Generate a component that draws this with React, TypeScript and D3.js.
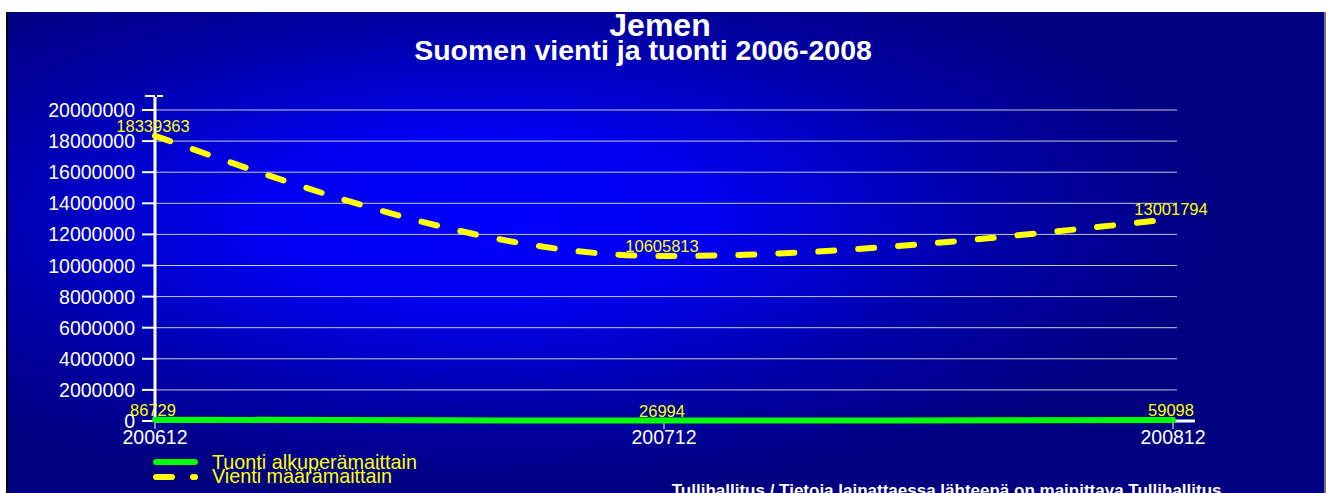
import React, { useEffect, useRef } from 'react';
import * as d3 from 'd3';

const months = ['200612', '200712', '200812'];
const tuonti = [86729, 26994, 59098];
const vienti = [18339363, 10605813, 13001794];
const yTicks = [0, 2000000, 4000000, 6000000, 8000000, 10000000, 12000000, 14000000, 16000000, 18000000, 20000000];
const legendLabels = ['Tuonti alkuperämaittain', 'Vienti määrämaittain'];

const W = 1328,
  H = 493;

export default function App() {
  const ref = useRef<SVGSVGElement>(null);

  useEffect(() => {
    const svg = d3.select(ref.current);
    svg.selectAll('*').remove();

    const x = d3.scalePoint<string>().domain(months).range([155, 1173]);
    const y = d3.scaleLinear().domain([0, 20000000]).range([421, 110]);

    const defs = svg.append('defs');
    const grad = defs
      .append('radialGradient')
      .attr('id', 'bg')
      .attr('cx', 0.36)
      .attr('cy', 0.42)
      .attr('r', 0.56);
    grad.append('stop').attr('offset', 0).attr('stop-color', '#0000ff');
    grad.append('stop').attr('offset', 0.3).attr('stop-color', '#0000f2');
    grad.append('stop').attr('offset', 0.7).attr('stop-color', '#0000a6');
    grad.append('stop').attr('offset', 1).attr('stop-color', '#000080');

    // background
    svg.append('rect').attr('x', 6).attr('y', 12).attr('width', 1319).attr('height', 490).attr('fill', 'url(#bg)');
    svg.append('line').attr('x1', 7).attr('x2', 7).attr('y1', 12).attr('y2', H).attr('stroke', '#000').attr('stroke-width', 2);
    svg.append('line').attr('x1', 1325).attr('x2', 1325).attr('y1', 12).attr('y2', H).attr('stroke', '#777').attr('stroke-width', 2);

    // titles
    svg
      .append('text')
      .attr('x', 660)
      .attr('y', 36)
      .attr('text-anchor', 'middle')
      .attr('font-family', 'Liberation Sans, Arial, sans-serif')
      .attr('font-weight', 'bold')
      .attr('font-size', 32)
      .attr('fill', '#fff')
      .text('Jemen');
    svg
      .append('text')
      .attr('x', 643)
      .attr('y', 60)
      .attr('text-anchor', 'middle')
      .attr('font-family', 'Liberation Sans, Arial, sans-serif')
      .attr('font-weight', 'bold')
      .attr('font-size', 28.5)
      .attr('fill', '#fff')
      .text('Suomen vienti ja tuonti 2006-2008');

    // grid
    svg
      .append('g')
      .selectAll('line')
      .data(yTicks.filter(d => d > 0))
      .enter()
      .append('line')
      .attr('x1', x(months[0]))
      .attr('x2', 1177)
      .attr('y1', d => y(d))
      .attr('y2', d => y(d))
      .attr('stroke', '#c8c8d8')
      .attr('stroke-width', 1);

    // y axis
    const yAxis = svg.append('g').attr('font-family', 'Liberation Sans, Arial, sans-serif');
    yAxis
      .selectAll('line.tick')
      .data(yTicks)
      .enter()
      .append('line')
      .attr('class', 'tick')
      .attr('x1', 142)
      .attr('x2', 155)
      .attr('y1', d => y(d))
      .attr('y2', d => y(d))
      .attr('stroke', '#fff')
      .attr('stroke-width', 2);
    yAxis
      .selectAll('text')
      .data(yTicks)
      .enter()
      .append('text')
      .attr('x', 135)
      .attr('y', d => y(d) + 7)
      .attr('text-anchor', 'end')
      .attr('font-size', 19.5)
      .attr('fill', '#fff')
      .text(d => String(d));
    yAxis
      .append('line')
      .attr('x1', 155)
      .attr('x2', 155)
      .attr('y1', 97)
      .attr('y2', y(0))
      .attr('stroke', '#fff')
      .attr('stroke-width', 3);
    yAxis
      .append('line')
      .attr('x1', 145)
      .attr('x2', 163)
      .attr('y1', 96)
      .attr('y2', 96)
      .attr('stroke', '#fff')
      .attr('stroke-width', 2)
      .attr('stroke-dasharray', '10 2');

    // x axis
    const xAxis = svg.append('g').attr('font-family', 'Liberation Sans, Arial, sans-serif');
    xAxis
      .append('line')
      .attr('x1', 155)
      .attr('x2', 1195)
      .attr('y1', y(0))
      .attr('y2', y(0))
      .attr('stroke', '#fff')
      .attr('stroke-width', 3);
    xAxis
      .selectAll('line.tick')
      .data(months)
      .enter()
      .append('line')
      .attr('class', 'tick')
      .attr('x1', d => x(d)!)
      .attr('x2', d => x(d)!)
      .attr('y1', y(0))
      .attr('y2', y(0) + 8)
      .attr('stroke', '#fff')
      .attr('stroke-width', 1);
    xAxis
      .selectAll('text')
      .data(months)
      .enter()
      .append('text')
      .attr('x', d => x(d)!)
      .attr('y', 444)
      .attr('text-anchor', 'middle')
      .attr('font-size', 19.5)
      .attr('fill', '#fff')
      .text(d => d);

    // series
    const line = d3
      .line<number>()
      .x((d, i) => x(months[i])!)
      .y(d => y(d))
      .curve(d3.curveMonotoneX);

    svg
      .append('path')
      .attr('d', line(tuonti))
      .attr('fill', 'none')
      .attr('stroke', '#00ff00')
      .attr('stroke-width', 6)
      .attr('stroke-linecap', 'round');

    svg
      .append('path')
      .attr('d', line(vienti))
      .attr('fill', 'none')
      .attr('stroke', '#ffff00')
      .attr('stroke-width', 6)
      .attr('stroke-linecap', 'round')
      .attr('stroke-dasharray', '16 24');

    // value labels
    const labels = svg.append('g').attr('font-family', 'Liberation Sans, Arial, sans-serif').attr('font-size', 16.5).attr('fill', '#ffff00').attr('text-anchor', 'middle');
    [tuonti, vienti].forEach(series => {
      labels
        .append('g')
        .selectAll('text')
        .data(series)
        .enter()
        .append('text')
        .attr('x', (d, i) => x(months[i])! - 2)
        .attr('y', d => y(d) - 4)
        .text(d => String(d));
    });

    // legend
    const legend = svg.append('g').attr('font-family', 'Liberation Sans, Arial, sans-serif');
    legend
      .append('line')
      .attr('x1', 156)
      .attr('x2', 195)
      .attr('y1', 462)
      .attr('y2', 462)
      .attr('stroke', '#00ff00')
      .attr('stroke-width', 6)
      .attr('stroke-linecap', 'round');
    legend
      .append('line')
      .attr('x1', 156)
      .attr('x2', 195)
      .attr('y1', 477)
      .attr('y2', 477)
      .attr('stroke', '#ffff00')
      .attr('stroke-width', 6)
      .attr('stroke-linecap', 'round')
      .attr('stroke-dasharray', '16 21');
    legend
      .selectAll('text')
      .data(legendLabels)
      .enter()
      .append('text')
      .attr('x', 212)
      .attr('y', (d, i) => 469 + i * 14)
      .attr('font-size', 19.8)
      .attr('fill', '#ffff00')
      .text(d => d);

    // source
    svg
      .append('text')
      .attr('x', 949)
      .attr('y', 496)
      .attr('text-anchor', 'middle')
      .attr('font-family', 'Liberation Sans, Arial, sans-serif')
      .attr('font-weight', 'bold')
      .attr('font-size', 17)
      .attr('fill', '#fff')
      .text('Tullihallitus / Tietoja lainattaessa lähteenä on mainittava Tullihallitus.');
  }, []);

  return <svg ref={ref} width={W} height={H} style={{ position: 'absolute', left: 0, top: 0, background: '#fff' }} />;
}
